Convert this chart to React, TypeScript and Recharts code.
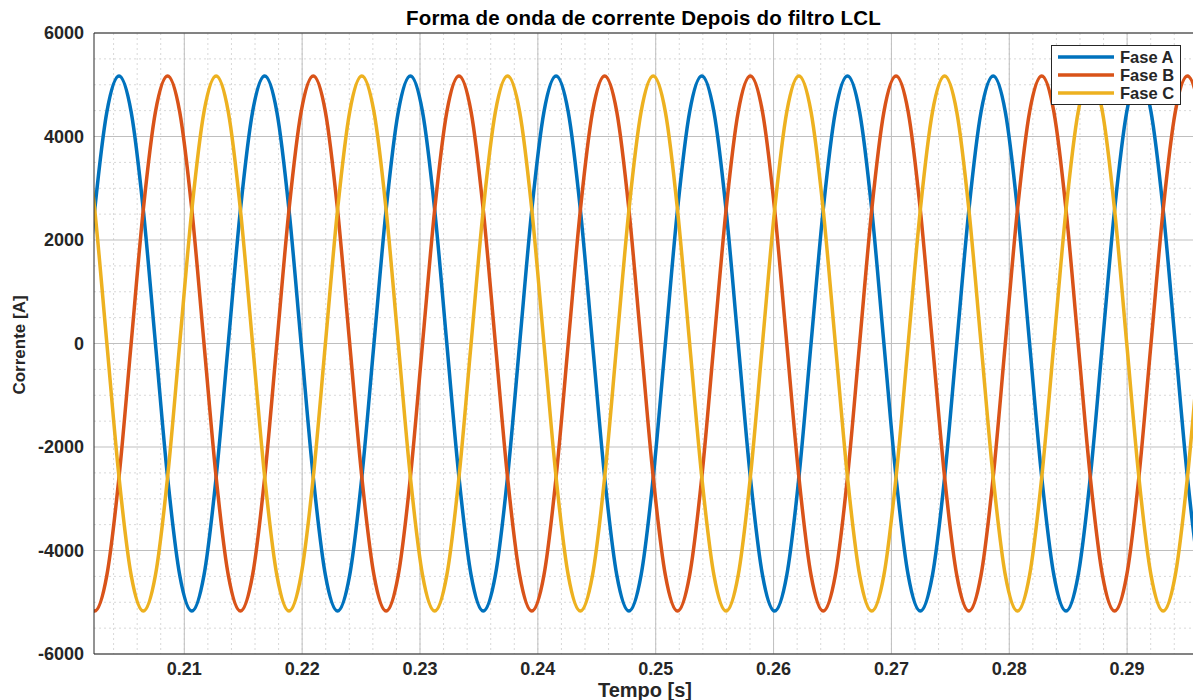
import { LineChart, Line, XAxis, YAxis, CartesianGrid, Legend, ReferenceLine } from 'recharts';

// instantes (picos, cruzamentos e pontos intermediários)
const tempo = [
  0.201369, 0.202400, 0.203430,
  0.204460, 0.205490, 0.206520, 0.207551, 0.208581, 0.209611, 0.210641, 0.211671, 0.212702, 0.213732, 0.214762, 0.215792,
  0.216822, 0.217853, 0.218883, 0.219913, 0.220943, 0.221973, 0.223004, 0.224034, 0.225064, 0.226094, 0.227124, 0.228155,
  0.229185, 0.230215, 0.231245, 0.232275, 0.233306, 0.234336, 0.235366, 0.236396, 0.237426, 0.238457, 0.239487, 0.240517,
  0.241547, 0.242577, 0.243608, 0.244638, 0.245668, 0.246698, 0.247728, 0.248759, 0.249789, 0.250819, 0.251849, 0.252879,
  0.253910, 0.254940, 0.255970, 0.257000, 0.258030, 0.259061, 0.260091, 0.261121, 0.262151, 0.263181, 0.264212, 0.265242,
  0.266272, 0.267302, 0.268332, 0.269363, 0.270393, 0.271423, 0.272453, 0.273483, 0.274514, 0.275544, 0.276574, 0.277604,
  0.278634, 0.279665, 0.280695, 0.281725, 0.282755, 0.283785, 0.284816, 0.285846, 0.286876, 0.287906, 0.288936, 0.289967,
  0.290997, 0.292027, 0.293057, 0.294087, 0.295118, 0.296148, 0.297178,
];

const faseA = [
  0, 2585, 4477,
  5170, 4477, 2585, 0, -2585, -4477, -5170, -4477, -2585, 0, 2585, 4477,
  5170, 4477, 2585, 0, -2585, -4477, -5170, -4477, -2585, 0, 2585, 4477,
  5170, 4477, 2585, 0, -2585, -4477, -5170, -4477, -2585, 0, 2585, 4477,
  5170, 4477, 2585, 0, -2585, -4477, -5170, -4477, -2585, 0, 2585, 4477,
  5170, 4477, 2585, 0, -2585, -4477, -5170, -4477, -2585, 0, 2585, 4477,
  5170, 4477, 2585, 0, -2585, -4477, -5170, -4477, -2585, 0, 2585, 4477,
  5170, 4477, 2585, 0, -2585, -4477, -5170, -4477, -2585, 0, 2585, 4477,
  5170, 4477, 2585, 0, -2585, -4477, -5170,
];

const faseB = [
  -4477, -5170, -4477,
  -2585, 0, 2585, 4477, 5170, 4477, 2585, 0, -2585, -4477, -5170, -4477,
  -2585, 0, 2585, 4477, 5170, 4477, 2585, 0, -2585, -4477, -5170, -4477,
  -2585, 0, 2585, 4477, 5170, 4477, 2585, 0, -2585, -4477, -5170, -4477,
  -2585, 0, 2585, 4477, 5170, 4477, 2585, 0, -2585, -4477, -5170, -4477,
  -2585, 0, 2585, 4477, 5170, 4477, 2585, 0, -2585, -4477, -5170, -4477,
  -2585, 0, 2585, 4477, 5170, 4477, 2585, 0, -2585, -4477, -5170, -4477,
  -2585, 0, 2585, 4477, 5170, 4477, 2585, 0, -2585, -4477, -5170, -4477,
  -2585, 0, 2585, 4477, 5170, 4477, 2585,
];

const faseC = [
  4477, 2585, 0,
  -2585, -4477, -5170, -4477, -2585, 0, 2585, 4477, 5170, 4477, 2585, 0,
  -2585, -4477, -5170, -4477, -2585, 0, 2585, 4477, 5170, 4477, 2585, 0,
  -2585, -4477, -5170, -4477, -2585, 0, 2585, 4477, 5170, 4477, 2585, 0,
  -2585, -4477, -5170, -4477, -2585, 0, 2585, 4477, 5170, 4477, 2585, 0,
  -2585, -4477, -5170, -4477, -2585, 0, 2585, 4477, 5170, 4477, 2585, 0,
  -2585, -4477, -5170, -4477, -2585, 0, 2585, 4477, 5170, 4477, 2585, 0,
  -2585, -4477, -5170, -4477, -2585, 0, 2585, 4477, 5170, 4477, 2585, 0,
  -2585, -4477, -5170, -4477, -2585, 0, 2585,
];

const xTicks = [0.21, 0.22, 0.23, 0.24, 0.25, 0.26, 0.27, 0.28, 0.29];
const yTicks = [-6000, -4000, -2000, 0, 2000, 4000, 6000];
const xMinor = [
  0.204, 0.206, 0.208, 0.21, 0.212, 0.214, 0.216, 0.218, 0.22, 0.222, 0.224, 0.226, 0.228, 0.23, 0.232, 0.234,
  0.236, 0.238, 0.24, 0.242, 0.244, 0.246, 0.248, 0.25, 0.252, 0.254, 0.256, 0.258, 0.26, 0.262, 0.264, 0.266,
  0.268, 0.27, 0.272, 0.274, 0.276, 0.278, 0.28, 0.282, 0.284, 0.286, 0.288, 0.29, 0.292, 0.294,
];
const yMinor = [
  -5500, -5000, -4500, -3500, -3000, -2500, -1500, -1000, -500,
  500, 1000, 1500, 2500, 3000, 3500, 4500, 5000, 5500,
];

const series = [
  { key: 'faseA', name: 'Fase A', color: '#0072BD' },
  { key: 'faseB', name: 'Fase B', color: '#D95319' },
  { key: 'faseC', name: 'Fase C', color: '#EDB120' },
];

const data = tempo.map((t, i) => ({ t, faseA: faseA[i], faseB: faseB[i], faseC: faseC[i] }));

const FONT = '"Liberation Sans", Arial, sans-serif';
const INK = '#262626';

function LegendBox() {
  return (
    <div
      style={{
        background: '#fff',
        border: `1px solid ${INK}`,
        padding: '2px 6px 2px 6px',
        fontFamily: FONT,
        fontWeight: 'bold',
        fontSize: 16.5,
        color: INK,
      }}
    >
      {series.map((s) => (
        <div key={s.key} style={{ display: 'flex', alignItems: 'center', height: 18 }}>
          <svg width={56} height={6} style={{ marginRight: 6 }}>
            <line x1={0} y1={3} x2={56} y2={3} stroke={s.color} strokeWidth={3.5} />
          </svg>
          <span>{s.name}</span>
        </div>
      ))}
    </div>
  );
}

export default function App() {
  return (
    <div style={{ position: 'absolute', left: 0, top: 0, width: 1193, height: 700, background: '#fff' }}>
      <div
        style={{
          position: 'absolute',
          left: 94,
          width: 1099,
          top: 8,
          textAlign: 'center',
          fontFamily: FONT,
          fontWeight: 'bold',
          fontSize: 20.5,
          letterSpacing: 0.2,
          lineHeight: '20px',
          color: '#000',
          whiteSpace: 'nowrap',
        }}
      >
        Forma de onda de corrente Depois do filtro LCL
      </div>
      <LineChart width={1193} height={700} data={data} margin={{ top: 33, right: 0, bottom: 16, left: 14 }}>
        <CartesianGrid verticalValues={xMinor} horizontalValues={yMinor} stroke="#d8d8d8" strokeDasharray="2 3" />
        <CartesianGrid verticalValues={xTicks} horizontalValues={yTicks} stroke="#bfbfbf" />
        <XAxis
          dataKey="t"
          type="number"
          domain={[0.202338, 0.29559]}
          allowDataOverflow
          ticks={xTicks}
          interval={0}
          tickFormatter={(v: number) => v.toFixed(2)}
          tick={{ fill: INK, fontSize: 18, fontWeight: 'bold', fontFamily: FONT }}
          tickLine={false}
          tickMargin={2}
          axisLine={{ stroke: INK }}
          height={30}
        />
        <YAxis
          type="number"
          domain={[-6000, 6000]}
          ticks={yTicks}
          interval={0}
          tick={{ fill: INK, fontSize: 18, fontWeight: 'bold', fontFamily: FONT }}
          tickLine={false}
          tickMargin={4}
          axisLine={{ stroke: INK }}
          width={80}
        />
        <ReferenceLine y={6000} stroke={INK} />
        {series.map((s) => (
          <Line
            key={s.key}
            type="monotone"
            dataKey={s.key}
            name={s.name}
            stroke={s.color}
            strokeWidth={3.5}
            dot={false}
            activeDot={false}
            isAnimationActive={false}
          />
        ))}
        <Legend
          layout="vertical"
          align="center"
          verticalAlign="middle"
          content={() => <LegendBox />}
          wrapperStyle={{ left: 1051, top: 45, right: 'auto', bottom: 'auto', width: 'auto' }}
        />
      </LineChart>
      <div
        style={{
          position: 'absolute',
          left: 645,
          top: 680,
          transform: 'translateX(-50%)',
          fontFamily: FONT,
          fontWeight: 'bold',
          fontSize: 20,
          lineHeight: '20px',
          color: INK,
          whiteSpace: 'nowrap',
        }}
      >
        Tempo [s]
      </div>
      <div
        style={{
          position: 'absolute',
          left: 19,
          top: 345,
          transform: 'translate(-50%, -50%) rotate(-90deg)',
          fontFamily: '"Liberation Sans Narrow", ' + FONT,
          fontWeight: 'bold',
          fontSize: 17,
          lineHeight: '17px',
          color: INK,
          whiteSpace: 'nowrap',
        }}
      >
        Corrente [A]
      </div>
    </div>
  );
}
